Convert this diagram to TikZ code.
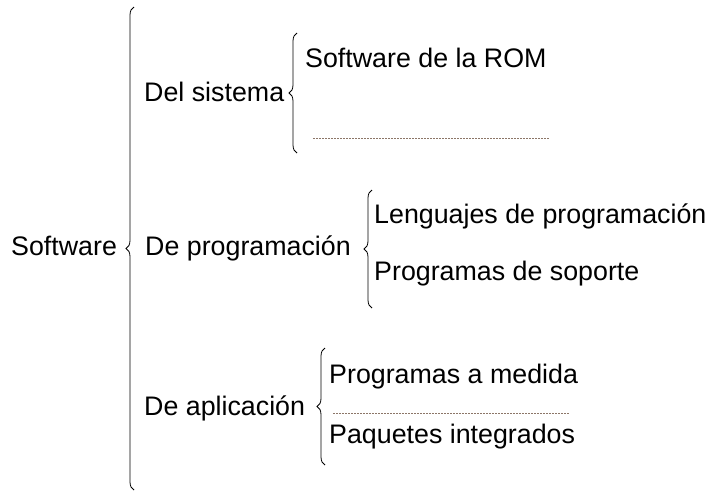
\documentclass[tikz,border=0pt]{standalone}
\usepackage{fontspec}
\setmainfont{Liberation Sans}
\usetikzlibrary{decorations.pathreplacing}
\definecolor{linea}{RGB}{140,118,104}
\begin{document}
\begin{tikzpicture}[x=1pt, y=-1pt,
		every node/.style={anchor=base west, inner sep=0pt, font=\fontsize{26.8}{30}\selectfont},
		llave/.style={line width=0.8pt, decorate, decoration={brace, amplitude=8pt}},
		puntos/.style={draw=linea, line width=0.8pt, dash pattern=on 1.5pt off 1.5pt}]
	\useasboundingbox (0,0) rectangle (715,493);

	\node (sw) at (11,255) {Software};
	\node (sis) at (144,101) {Del sistema};
	\node (prog) at (145,255) {De programación};
	\node (apl) at (144,415) {De aplicación};

	\node (rom) at (305,67) {Software de la ROM};
	\node (len) at (374,223) {Lenguajes de programación};
	\node (sop) at (374,280) {Programas de soporte};
	\node (med) at (329,383) {Programas a medida};
	\node (paq) at (329,443) {Paquetes integrados};

	% llaves
	\draw[llave] (134,490) -- (134,7);
	\draw[llave] (297,153) -- (297,33);
	\draw[llave] (372,308) -- (372,190);
	\draw[llave] (325,465) -- (325,348);

	% lineas de puntos
	\draw[puntos] (313,138) -- (549,138);
	\draw[puntos] (333,413) -- (570,413);
\end{tikzpicture}
\end{document}
